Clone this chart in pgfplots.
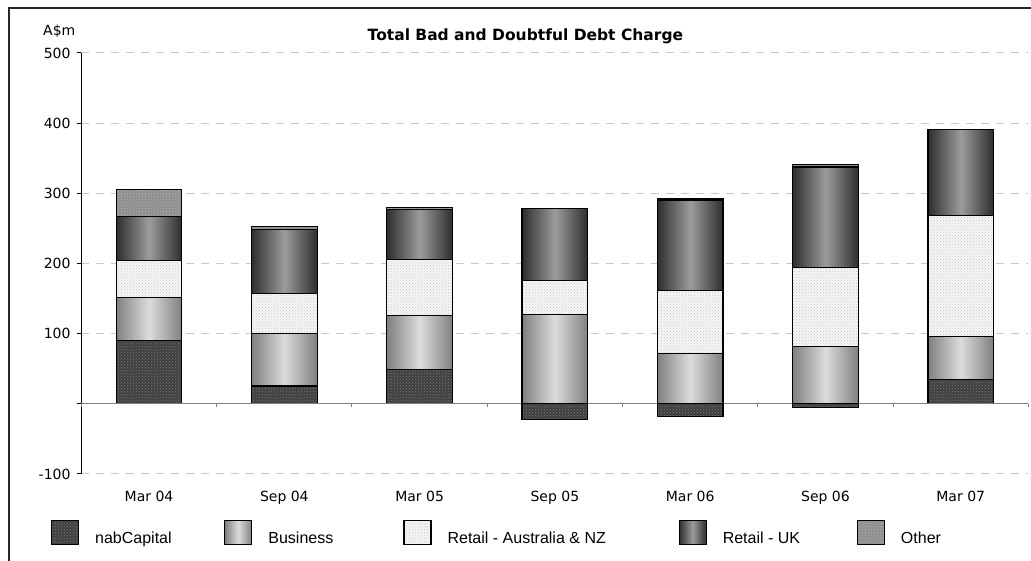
\documentclass[border=0pt]{standalone}
\usepackage{fontspec}
\usepackage{pgfplots}
\pgfplotsset{compat=1.18}
\usetikzlibrary{patterns}
\setmainfont{DejaVu Sans}
\newfontfamily\legfont{Liberation Sans}
\definecolor{gridc}{HTML}{C8C8C8}
\definecolor{zeroc}{HTML}{808080}
\definecolor{nabfill}{HTML}{404040}
\definecolor{nabpat}{HTML}{7A7A7A}
\definecolor{busedge}{HTML}{808080}
\definecolor{busmid}{HTML}{DCDCDC}
\definecolor{aufill}{HTML}{F6F6F6}
\definecolor{aupat}{HTML}{C4C4C4}
\definecolor{ukedge}{HTML}{2E2E2E}
\definecolor{ukmid}{HTML}{9C9C9C}
\definecolor{othfill}{HTML}{8E8E8E}
\definecolor{othpat}{HTML}{B8B8B8}

\tikzset{
  nabst/.style={draw=black, line width=1.2pt, fill=nabfill, postaction={pattern=crosshatch dots, pattern color=nabpat}},
  busst/.style={draw=black, line width=1.2pt, left color=busedge, right color=busedge, middle color=busmid},
  aust/.style={draw=black, line width=1.2pt, fill=aufill, postaction={pattern=crosshatch dots, pattern color=aupat}},
  ukst/.style={draw=black, line width=1.2pt, left color=ukedge, right color=ukedge, middle color=ukmid},
  othst/.style={draw=black, line width=1.2pt, fill=othfill, postaction={pattern=crosshatch dots, pattern color=othpat}},
}
\pgfplotsset{
  mylegend/.style={legend image code/.code={\draw[##1] (0pt,-6.5pt) rectangle (27pt,17.5pt);}},
  base/.style={at={(0,0)}, anchor=south west, scale only axis,
    width=947pt, height=421pt, xmin=-0.5, xmax=6.5, ymin=-100, ymax=500},
  catax/.style={base, hide axis, ybar stacked, bar width=0.485},
}

\begin{document}
\begin{tikzpicture}
% main axis: grid, ticks, labels, legend, and the Mar 04 bar
\begin{axis}[
  base, clip=false,
  ybar stacked, bar width=0.485,
  axis y line*=left, axis x line*=bottom,
  x axis line style={draw=none},
  y axis line style={black, line width=1pt},
  xtick={0,1,2,3,4,5,6},
  xticklabels={Mar 04,Sep 04,Mar 05,Sep 05,Mar 06,Sep 06,Mar 07},
  x tick style={draw=none},
  xticklabel style={anchor=base, yshift=-23.3pt, inner sep=0pt},
  ytick={-100,0,100,200,300,400,500},
  yticklabels={-100,,100,200,300,400,500},
  y tick style={black, line width=1pt},
  major tick length=4pt, tick align=outside,
  yticklabel style={anchor=east, inner sep=0pt, xshift=-6.7pt},
  tick label style={font=\fontsize{14}{16}\selectfont},
  ymajorgrids,
  grid style={gridc, dash pattern=on 8pt off 7pt, line width=1pt},
  every axis plot post/.append style={mylegend},
  legend columns=5,
  legend style={draw=none, fill=none, inner sep=0pt, outer sep=0pt,
    at={(0,0)}, anchor=north west, xshift=-30.4pt, yshift=-46pt,
    font=\legfont\fontsize{16}{19}\selectfont,
    nodes={inner sep=0pt, outer sep=0pt},
    /tikz/every odd column/.style={column sep=16pt},
    /tikz/every even column/.style={column sep=0pt}},
  legend cell align=left,
]
\addplot[nabst] coordinates {(0,90)};
\addlegendentry{\makebox[129pt][l]{nabCapital}}
\addplot[busst] coordinates {(0,61)};
\addlegendentry{\makebox[135pt][l]{Business}}
\addplot[aust] coordinates {(0,53)};
\addlegendentry{\makebox[231pt][l]{Retail - Australia \& NZ}}
\addplot[ukst] coordinates {(0,63)};
\addlegendentry{\makebox[134pt][l]{Retail - UK}}
\addplot[othst] coordinates {(0,38.5)};
\addlegendentry{Other}
\node[anchor=base, font=\bfseries\fontsize{15.5}{18}\selectfont, yshift=12.3pt] at (rel axis cs:0.4689,1) {Total Bad and Doubtful Debt Charge};
\node[anchor=base west, font=\fontsize{14}{16}\selectfont, xshift=-38.4pt, yshift=17.3pt, inner sep=0pt] at (rel axis cs:0,1) {A\$m};
\end{axis}
% Sep 04
\begin{axis}[catax]
\addplot[nabst] coordinates {(1,25.5)};
\addplot[busst] coordinates {(1,75)};
\addplot[aust] coordinates {(1,57)};
\addplot[ukst] coordinates {(1,90.5)};
\addplot[othst] coordinates {(1,5)};
\end{axis}
% Mar 05
\begin{axis}[catax]
\addplot[nabst] coordinates {(2,49)};
\addplot[busst] coordinates {(2,77)};
\addplot[aust] coordinates {(2,80)};
\addplot[ukst] coordinates {(2,71)};
\addplot[othst] coordinates {(2,3)};
\end{axis}
% Sep 05
\begin{axis}[catax]
\addplot[busst] coordinates {(3,127.7)};
\addplot[aust] coordinates {(3,48)};
\addplot[ukst] coordinates {(3,102.5)};
\addplot[othst] coordinates {(3,0.6)};
\end{axis}
% Mar 06
\begin{axis}[catax]
\addplot[busst] coordinates {(4,72.2)};
\addplot[aust] coordinates {(4,89.2)};
\addplot[ukst] coordinates {(4,129)};
\addplot[othst] coordinates {(4,1.7)};
\end{axis}
% Sep 06
\begin{axis}[catax]
\addplot[busst] coordinates {(5,81.2)};
\addplot[aust] coordinates {(5,113)};
\addplot[ukst] coordinates {(5,143.3)};
\addplot[othst] coordinates {(5,3.7)};
\end{axis}
% Mar 07
\begin{axis}[catax]
\addplot[nabst] coordinates {(6,34.2)};
\addplot[busst] coordinates {(6,61.2)};
\addplot[aust] coordinates {(6,172.8)};
\addplot[ukst] coordinates {(6,122.9)};
\end{axis}
% zero line, category ticks, negative nabCapital values
\begin{axis}[
  base,
  axis y line=none, axis x line=middle,
  x axis line style={-, draw=zeroc, line width=1.2pt},
  xtick={-0.5,0.5,1.5,2.5,3.5,4.5,5.5,6.5},
  xticklabels={},
  x tick style={zeroc, line width=1pt},
  major tick length=3pt, tick align=outside,
  ybar, bar width=0.485,
]
\addplot[nabst] coordinates {(3,-22.8) (4,-17.6) (5,-4.8)};
\end{axis}
\draw[line width=1.5pt, black!85] (-72.3pt,-87pt) -- (-72.3pt,466pt) -- (949.6pt,466pt);
\pgfresetboundingbox
\path[use as bounding box] (-81.4pt,-87pt) rectangle (949.6pt,474pt);
\end{tikzpicture}
\end{document}
